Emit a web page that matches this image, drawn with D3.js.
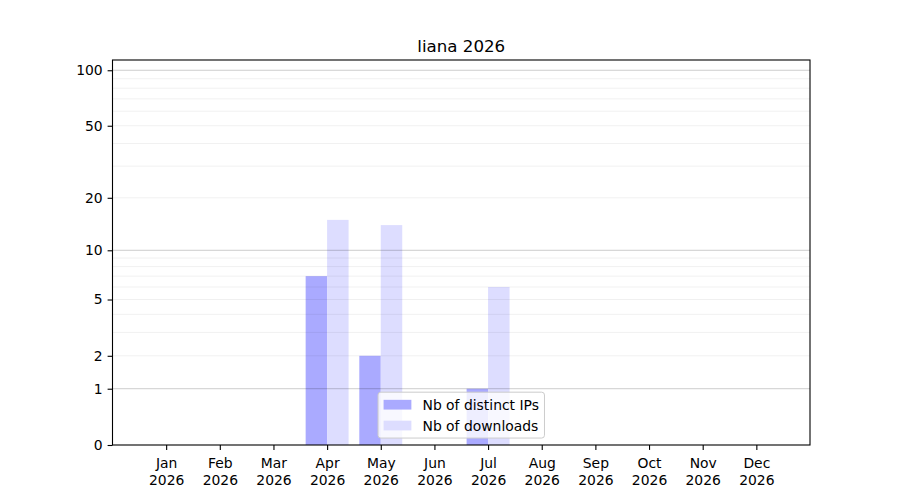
<!DOCTYPE html>
<html><head><meta charset="utf-8">
<script src="https://cdn.jsdelivr.net/npm/d3@7"></script>
<style>body{margin:0;background:#fff}svg{display:block;font-family:"DejaVu Sans",sans-serif}svg text{font-family:"DejaVu Sans",sans-serif}</style>
</head><body><svg id="c" width="900" height="500"></svg>
<script>
const title = "liana 2026";
const months = ["Jan","Feb","Mar","Apr","May","Jun","Jul","Aug","Sep","Oct","Nov","Dec"];
const year = "2026";
const distinctIPs = [0,0,0,7,2,0,1,0,0,0,0,0];
const downloads = [0,0,0,15,14,0,6,0,0,0,0,0];
const seriesNames = ["Nb of distinct IPs","Nb of downloads"];
const seriesColors = ["#aaaaff","#ddddff"];
const yTickValues = [0,1,2,5,10,20,50,100];
const majorGrid = [1,10,100];
const minorGrid = [2,3,4,5,6,7,8,9,20,30,40,50,60,70,80,90];
const yMax = 113.6;

const svg = d3.select("#c");
const L = 112.5, R = 810, T = 60, B = 445;
const x = d3.scaleLinear().domain([-1, 12]).range([L, R]);
const y = d3.scaleSymlog().constant(1).domain([0, yMax]).range([B, T]);
const step = x(1) - x(0);
const bw = 0.4 * step;

// bars
const series = [distinctIPs, downloads];
series.forEach((vals, si) => {
  svg.append("g").selectAll("rect").data(vals).join("rect")
    .attr("x", (d, i) => x(i) + (si === 0 ? -bw : 0))
    .attr("width", bw)
    .attr("y", d => y(d))
    .attr("height", d => B - y(d))
    .attr("fill", seriesColors[si]);
});

// grid (above bars, like matplotlib)
svg.append("g").selectAll("line").data(minorGrid).join("line")
  .attr("x1", L).attr("x2", R)
  .attr("y1", d => y(d)).attr("y2", d => y(d))
  .attr("stroke", "#000").attr("stroke-opacity", 0.08).attr("stroke-width", 0.8);
svg.append("g").selectAll("line").data(majorGrid).join("line")
  .attr("x1", L).attr("x2", R)
  .attr("y1", d => y(d)).attr("y2", d => y(d))
  .attr("stroke", "#000").attr("stroke-opacity", 0.2).attr("stroke-width", 1);

// axes
const fs = 13.9;
const yAxis = d3.axisLeft(y).tickValues(yTickValues).tickFormat(d3.format("d")).tickSize(4.9).tickPadding(4.9);
const gy = svg.append("g").attr("transform", `translate(${L},0)`).call(yAxis)
  .attr("font-family", "DejaVu Sans").attr("font-size", fs);
gy.select(".domain").remove();
gy.selectAll("line").attr("stroke-width", 1.1);
gy.selectAll("text").attr("fill", "#000");

const xAxis = d3.axisBottom(x).tickValues(d3.range(12)).tickFormat(() => "").tickSize(4.9);
const gx = svg.append("g").attr("transform", `translate(0,${B})`).call(xAxis)
  .attr("font-family", "DejaVu Sans").attr("font-size", fs);
gx.select(".domain").remove();
gx.selectAll("line").attr("stroke-width", 1.1);
gx.selectAll(".tick text").remove();
gx.selectAll(".tick").each(function(d) {
  const t = d3.select(this).append("text").attr("fill", "#000")
    .attr("text-anchor", "middle").attr("y", 9.8);
  t.append("tspan").attr("x", 0).attr("dy", "0.95em").text(months[d]);
  t.append("tspan").attr("x", 0).attr("dy", "1.2em").text(year);
});

// spines
svg.append("rect").attr("x", L).attr("y", T).attr("width", R - L).attr("height", B - T)
  .attr("fill", "none").attr("stroke", "#000").attr("stroke-width", 1.1);

// title
svg.append("text").attr("x", (L + R) / 2).attr("y", T - 8.3).attr("text-anchor", "middle")
  .attr("font-size", 16.67).attr("fill", "#000").text(title);

// legend (lower center)
const pad = 0.4 * fs, hl = 2.0 * fs, htp = 0.8 * fs, rowH = fs, ls = 0.5 * fs, hh = 0.7 * fs;
const lg = svg.append("g").attr("font-size", fs);
const box = lg.append("rect");
const texts = seriesNames.map((n, i) => lg.append("text").attr("fill", "#000")
  .attr("dominant-baseline", "central").text(n));
const tw = d3.max(texts, t => t.node().getComputedTextLength());
const lw = pad * 2 + hl + htp + tw;
const lh = pad * 2 + rowH * 2 + ls;
const lx = (L + R) / 2 - lw / 2;
const ly = B - 0.5 * fs - lh;
box.attr("x", lx).attr("y", ly).attr("width", lw).attr("height", lh).attr("rx", 2.8)
  .attr("fill", "#fff").attr("fill-opacity", 0.8).attr("stroke", "#cccccc").attr("stroke-width", 1);
seriesNames.forEach((n, i) => {
  const cy = ly + pad + i * (rowH + ls) + rowH / 2;
  lg.insert("rect", "text").attr("x", lx + pad).attr("y", cy - hh / 2).attr("width", hl).attr("height", hh)
    .attr("fill", seriesColors[i]);
  texts[i].attr("x", lx + pad + hl + htp).attr("y", cy + 0.5);
});
</script></body></html>
